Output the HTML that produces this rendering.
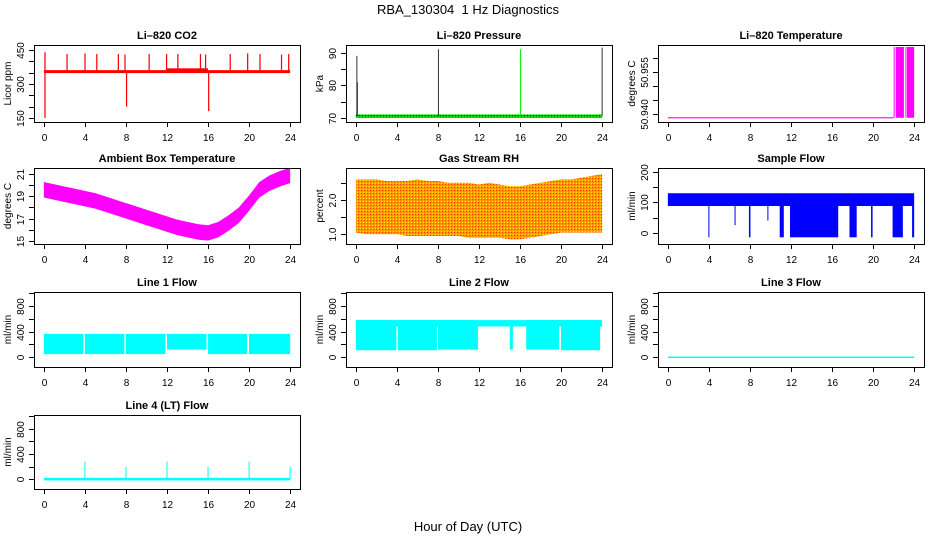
<!DOCTYPE html>
<html><head><meta charset="utf-8">
<style>
html,body{margin:0;padding:0;background:#fff;}
svg{display:block;font-family:"Liberation Sans",sans-serif;}
.t{font-size:11px;font-weight:bold;text-anchor:middle;}
.tk{font-size:10px;text-anchor:middle;}
.yl{font-size:10px;text-anchor:middle;}
</style></head>
<body>
<svg id="chart" width="936" height="540" viewBox="0 0 936 540">
<defs>
<pattern id="rhpat" width="3" height="3" patternUnits="userSpaceOnUse">
<rect width="3" height="3" fill="#ff9a00"/><rect width="1" height="1" fill="#ffee00"/><rect x="1" y="1" width="1" height="1" fill="#ff3300"/>
</pattern>
</defs>
<text x="468" y="14" font-size="13" text-anchor="middle">RBA_130304&#160; 1 Hz Diagnostics</text>
<text x="468" y="531" font-size="13" text-anchor="middle">Hour of Day (UTC)</text>
</svg>
<script>
// ---- data ----
const xTicks = [0,4,8,12,16,20,24];
// CO2
const co2Base = 355;
const co2SpikeHours = [0.05,2.2,3.95,5.1,7.2,7.85,10.2,11.9,13.0,15.2,15.7,18.1,19.8,21.0,23.1,23.8,0.05,8.0,16.0];
const co2SpikeValues = [440,432,435,432,432,430,432,432,432,432,430,432,435,432,430,432,150,200,180];
// Pressure
const presBase = 70.8;
const presSpikeHours = [0.05,0.1,8.0,16.0,23.95];
const presSpikeValues = [89,81,91,91,91.5];
// Li-820 temperature
const tempBase = 50.9386;
const tempBlockStart = [22.0,22.2,23.15,23.3];
const tempBlockEnd = [22.1,23.0,23.2,24.0];
const tempBlockTop = 50.9639;
// Ambient
const hours = [0,1,2,3,4,5,6,7,8,9,10,11,12,13,14,15,16,17,18,19,20,21,22,23,24];
const ambHi = [20.3,20.1,19.9,19.7,19.5,19.3,19.0,18.7,18.4,18.1,17.8,17.5,17.2,16.9,16.7,16.5,16.4,16.7,17.3,18.0,19.1,20.3,20.9,21.3,21.6];
const ambLo = [18.9,18.7,18.5,18.3,18.1,17.9,17.6,17.3,17.0,16.7,16.4,16.1,15.8,15.5,15.3,15.1,15.0,15.3,15.9,16.6,17.7,18.9,19.5,19.9,20.2];
// RH
const rhHi = [2.6,2.6,2.6,2.55,2.55,2.55,2.6,2.55,2.55,2.5,2.5,2.5,2.45,2.5,2.45,2.4,2.4,2.45,2.5,2.55,2.6,2.6,2.65,2.7,2.75];
const rhLo = [1.05,1.0,1.0,1.0,1.0,0.95,0.95,0.95,0.95,0.95,0.95,0.9,0.9,0.9,0.9,0.85,0.85,0.9,0.95,1.0,1.05,1.05,1.05,1.05,1.05];
// Sample flow
const sfHi = 130, sfLo = 88;
const sfDropStart = [3.95,6.5,7.9,9.7,10.9,11.9,17.7,19.8,21.9,23.8];
const sfDropEnd = [4.05,6.55,8.05,9.75,11.3,16.6,18.4,19.95,22.9,24.0];
const sfDropMin = [-15,25,-15,40,-15,-15,-15,-15,-15,-15];
// Line 1
const l1Start = [0,4,8,12,16,20];
const l1End = [3.85,7.85,11.85,15.85,19.8,24];
const l1Lo = [50,50,50,120,50,50];
const l1Hi = [365,365,365,365,365,365];
// Line 2
const l2BandLo = 480, l2BandHi = 580;
const l2DropStart = [0,4.1,8.0,15.0,16.6,20.0];
const l2DropEnd = [3.95,7.9,11.9,15.3,19.8,23.8];
const l2DropLo = [110,110,120,120,120,110];
// Line 3
const l3Value = 0;
// Line 4
const l4Base = 5;
const l4SpikeHours = [4,8,12,16,20,24];
const l4SpikeValues = [280,200,280,200,280,200];

// ---- layout ----
const svg = document.getElementById('chart');
const NS = 'http://www.w3.org/2000/svg';
const colX = [34,346,658], rowY = [45,168,292,415], rowH = [77,76,75,74], W = 266;
function mk(tag, attrs, parent){const e=document.createElementNS(NS,tag);for(const k in attrs)e.setAttribute(k,attrs[k]);(parent||svg).appendChild(e);return e;}

function panel(name, title, ylab, col, row, ylim, ticks, labels){
  const g = mk('g',{});
  
  
  const x0=colX[col], y0=rowY[row], h=rowH[row];
  const xs = v => x0 + (v+0.96)/25.92*W;
  const ys = v => y0 + h - (v-ylim[0])/(ylim[1]-ylim[0])*h;
  const tt = mk('text',{x:x0+W/2,y:y0-6,class:'t'},g); tt.textContent=title;
  
  
  const yl = mk('text',{x:0,y:0,class:'yl',transform:`translate(${x0-23},${y0+h/2}) rotate(-90)`},g); yl.textContent=ylab;
  
  
  const plot = mk('g',{},g);
  
  
  const ax = mk('g',{stroke:'#000','stroke-width':1,fill:'none'},g);
  
  
  mk('rect',{x:x0+0.5,y:y0+0.5,width:W,height:h},ax);
  xTicks.forEach(t=>{
    const X=Math.round(xs(t))+0.5;
    mk('line',{x1:X,x2:X,y1:y0+h,y2:y0+h+5},ax);
    const lb=mk('text',{x:X,y:y0+h+19,class:'tk',stroke:'none',fill:'#000'},g); lb.textContent=t;
    
    
  });
  ticks.forEach((t,i)=>{
    const Y=Math.round(ys(t))+0.5;
    mk('line',{x1:x0-5,x2:x0,y1:Y,y2:Y},ax);
    if(labels[i]){
      const lb=mk('text',{x:0,y:0,class:'tk',transform:`translate(${x0-10},${Y}) rotate(-90)`},g); lb.textContent=labels[i];
      
      
    }
  });
  return {plot,xs,ys};
}
function vbar(p, x1, x2, v1, v2, fill){
  const a=p.xs(x1), b=p.xs(x2), c=p.ys(v2), d=p.ys(v1);
  return mk('rect',{x:a,y:c,width:Math.max(1,b-a),height:Math.max(1,d-c),fill:fill},p.plot);
}
function band(p, lo, hi, fill){
  let pts=hours.map((h,i)=>p.xs(h)+','+p.ys(hi[i]));
  pts=pts.concat(hours.slice().reverse().map((h,j)=>{const i=hours.length-1-j;return p.xs(h)+','+p.ys(lo[i]);}));
  return mk('polygon',{points:pts.join(' '),fill:fill},p.plot);
}

// CO2
let p = panel('panel-co2','Li\u2013820 CO2','Licor ppm',0,0,[132,472],[150,200,250,300,350,400,450],['150','','','300','','','450']);
vbar(p,0,24,co2Base-7,co2Base+6,'#ff0000');
vbar(p,12,16,co2Base-5,co2Base+14,'#ff0000');
co2SpikeHours.forEach((h,i)=>{const v=co2SpikeValues[i];vbar(p,h,h+0.12,Math.min(v,co2Base),Math.max(v,co2Base),'#ff0000');});
// Pressure
p = panel('panel-pressure','Li\u2013820 Pressure','kPa',1,0,[68.9,92.3],[70,75,80,85,90],['70','','80','','90']);
vbar(p,0,24,presBase-0.7,presBase+0.4,'#00dd00');
mk('line',{x1:p.xs(0),x2:p.xs(24),y1:p.ys(presBase),y2:p.ys(presBase),stroke:'#000','stroke-width':1,'stroke-dasharray':'1,2'},p.plot);
presSpikeHours.forEach((h,i)=>{vbar(p,h,h+0.08,presBase,presSpikeValues[i],i===3?'#00ee00':'#333333');});
// Temperature
p = panel('panel-li820-temp','Li\u2013820 Temperature','degrees C',2,0,[50.9371,50.9646],[50.940,50.945,50.950,50.955,50.960],['50.940','','','50.955','']);
vbar(p,0,22,tempBase-0.0002,tempBase+0.0002,'#ff00ff');
tempBlockStart.forEach((s,i)=>vbar(p,s,tempBlockEnd[i],tempBase,tempBlockTop,'#ff00ff'));
// Ambient
p = panel('panel-ambient-temp','Ambient Box Temperature','degrees C',0,1,[14.7,21.57],[15,16,17,18,19,20,21],['15','','17','','19','','21']);
band(p,ambLo,ambHi,'#ff00ff');
// RH
p = panel('panel-rh','Gas Stream RH','percent',1,1,[0.717,2.93],[1.0,1.5,2.0,2.5],['1.0','','2.0','']);
band(p,rhLo,rhHi,'url(#rhpat)');
// Sample flow
p = panel('panel-sample-flow','Sample Flow','ml/min',2,1,[-37,213],[0,50,100,150,200],['0','','100','','200']);
vbar(p,0,24,sfLo,sfHi,'#0000ff');
sfDropStart.forEach((s,i)=>vbar(p,s,sfDropEnd[i],sfDropMin[i],sfLo,'#0000ff'));
// Line 1
const flowTicks=[0,200,400,600,800,1000], flowLabels=['0','','400','','800',''];
p = panel('panel-line1-flow','Line 1 Flow','ml/min',0,2,[-151,1018],flowTicks,flowLabels);
l1Start.forEach((s,i)=>vbar(p,s,l1End[i],l1Lo[i],l1Hi[i],'#00ffff'));
// Line 2
p = panel('panel-line2-flow','Line 2 Flow','ml/min',1,2,[-151,1018],flowTicks,flowLabels);
vbar(p,0,24,l2BandLo,l2BandHi,'#00ffff');
l2DropStart.forEach((s,i)=>vbar(p,s,l2DropEnd[i],l2DropLo[i],l2BandHi,'#00ffff'));
// Line 3
p = panel('panel-line3-flow','Line 3 Flow','ml/min',2,2,[-151,1018],flowTicks,flowLabels);
vbar(p,0,24,l3Value-12,l3Value+12,'#00ffff');
// Line 4
p = panel('panel-line4-flow','Line 4 (LT) Flow','ml/min',0,3,[-151,1018],flowTicks,flowLabels);
vbar(p,0,24,l4Base-20,l4Base+20,'#00ffff');
l4SpikeHours.forEach((h,i)=>vbar(p,h-0.05,h+0.05,l4Base,l4SpikeValues[i],'#00ffff'));
</script>
</body></html>
